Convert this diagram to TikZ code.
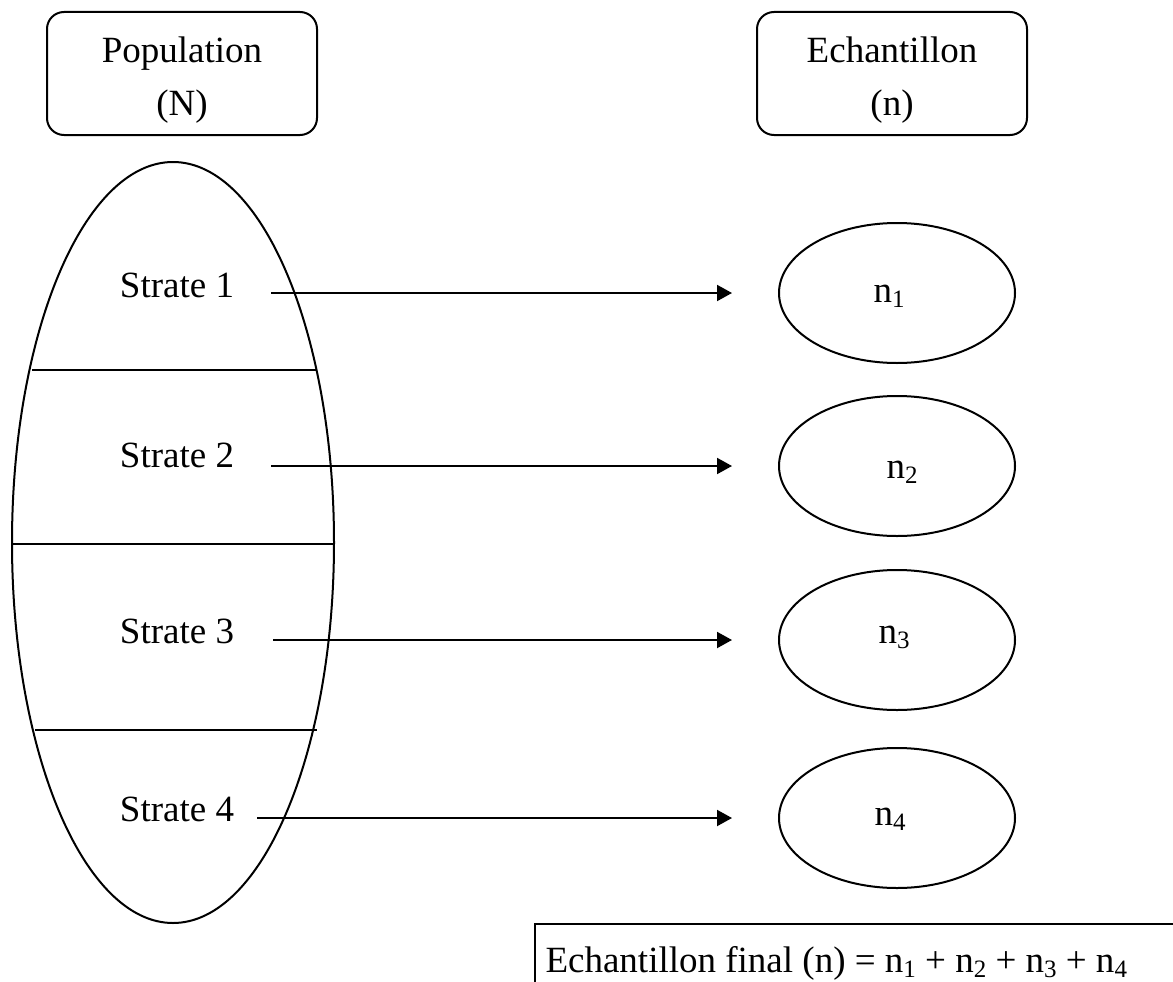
\documentclass[tikz,border=0pt]{standalone}
\usepackage{fontspec}
\setmainfont{Liberation Serif}
\usetikzlibrary{shapes.geometric,arrows.meta}

% small lowered index, as in n_1
\newcommand\lowidx[1]{\raisebox{-0.14em}{\fontsize{25}{25}\selectfont #1}}

\begin{document}
\begin{tikzpicture}[x=1pt,y=-1pt,
  line width=2pt,
  txt/.style={inner sep=0pt,font=\fontsize{37}{52}\selectfont},
  headbox/.style={draw,rounded corners=17pt,minimum width=270pt,minimum height=123pt,inner sep=0pt},
  sample/.style={draw,ellipse,minimum width=236pt,minimum height=140pt,inner sep=0pt},
  link/.style={-{Triangle[length=15pt,width=16pt]},line width=2pt,shorten >=46pt}
]
\useasboundingbox (0,0) rectangle (1173,982);

% header boxes
\node[headbox] (pop) at (182,73.5) {};
\node[txt,anchor=base] (popa) at (182,63) {Population};
\node[txt,anchor=base] (popb) at (182,115) {(N)};
\node[headbox] (ech) at (892,73.5) {};
\node[txt,anchor=base] (echa) at (892,63) {Echantillon};
\node[txt,anchor=base] (echb) at (892,115) {(n)};

% population split into strata
\node[draw,ellipse,minimum width=322pt,minimum height=761pt,inner sep=0pt] (big) at (173,542.5) {};
\draw (32,370) -- (317,370);
\draw (12,544) -- (334,544);
\draw (35,730) -- (317,730);

\node[txt,anchor=base] (s1) at (177,297) {Strate 1};
\node[txt,anchor=base] (s2) at (177,467) {Strate 2};
\node[txt,anchor=base] (s3) at (177,643) {Strate 3};
\node[txt,anchor=base] (s4) at (177,821) {Strate 4};

% sample drawn from each stratum
\node[sample] (e1) at (897,293) {};
\node[sample] (e2) at (897,466) {};
\node[sample] (e3) at (897,640) {};
\node[sample] (e4) at (897,818) {};
\node[txt,anchor=base] (l1) at (889,302) {n\lowidx{1}};
\node[txt,anchor=base] (l2) at (902,478) {n\lowidx{2}};
\node[txt,anchor=base] (l3) at (894,643) {n\lowidx{3}};
\node[txt,anchor=base] (l4) at (890,825) {n\lowidx{4}};

\draw[link,shorten <=36pt] (s1.east |- e1.west) -- (e1.west);
\draw[link,shorten <=36pt] (s2.east |- e2.west) -- (e2.west);
\draw[link,shorten <=38pt] (s3.east |- e3.west) -- (e3.west);
\draw[link,shorten <=22pt] (s4.east |- e4.west) -- (e4.west);

% final sample size
\node[txt,anchor=base east] (fin) at (1128,972)
  {Echantillon final (n) = n\lowidx{1} + n\lowidx{2} + n\lowidx{3} + n\lowidx{4}};
\draw ([xshift=-10pt]fin.base west) ++(0,10) |- (1173,924);
\end{tikzpicture}
\end{document}
